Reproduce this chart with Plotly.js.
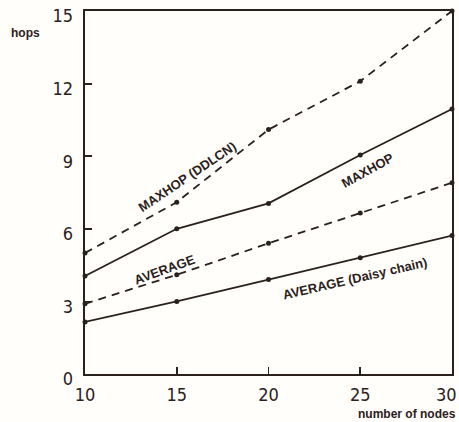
<!DOCTYPE html>
<html>
<head>
<meta charset="utf-8">
<script src="https://cdn.plot.ly/plotly-3.0.1.min.js"></script>
<style>html,body{margin:0;padding:0;background:#fffefa;}#chart{width:459px;height:422px;}</style>
</head>
<body>
<div id="chart"></div>
<script>
const nodes = [10, 15, 20, 25, 30];
const maxhopDDLCN = [5.0, 7.1, 10.1, 12.1, 15.0];
const maxhop = [4.05, 6.0, 7.05, 9.05, 10.95];
const average = [2.9, 4.1, 5.4, 6.65, 7.9];
const averageDaisy = [2.15, 3.0, 3.9, 4.8, 5.72];
const xTicks = [10, 15, 20, 25];
const xLastTick = 30;
const yTicks = [0, 3, 6, 9, 12, 15];

const ink = '#2b211c';
const narrow = '"Liberation Sans Narrow", "DejaVu Sans Condensed", "Arial Narrow", sans-serif';
const bold = '"Liberation Sans", Arial, sans-serif';

function tr(y, dashed) {
  return {
    x: nodes, y: y, type: 'scatter', mode: 'lines+markers',
    line: {color: ink, width: 1.8, dash: dashed ? '8px,6px' : 'solid'},
    marker: {color: ink, size: 5},
    hoverinfo: 'skip', showlegend: false, cliponaxis: false
  };
}

const data = [tr(maxhopDDLCN, true), tr(maxhop, false), tr(average, true), tr(averageDaisy, false)];

function lab(text, x, y, angle) {
  return {text: text, xref: 'x', yref: 'y', x: x, y: y, showarrow: false, textangle: angle,
    font: {family: bold, size: 13, color: ink, weight: 700}};
}

const layout = {
  width: 459, height: 422,
  margin: {l: 85, r: 7, t: 11, b: 48},
  paper_bgcolor: '#fffefa', plot_bgcolor: '#fffefa',
  xaxis: {
    range: [10, 30], tickvals: xTicks.concat([xLastTick]), ticktext: xTicks.map(String).concat(['']),
    ticks: 'inside', ticklen: 7, tickwidth: 1.8, tickcolor: ink,
    showline: true, linecolor: ink, linewidth: 2.4, mirror: true,
    showgrid: false, zeroline: false, ticklabelstandoff: 3,
    tickfont: {family: narrow, size: 18, color: ink}
  },
  yaxis: {
    range: [0, 15], tickvals: yTicks, ticktext: yTicks.map(String),
    ticks: 'inside', ticklen: 7, tickwidth: 1.8, tickcolor: ink,
    showline: true, linecolor: ink, linewidth: 2.4, mirror: true,
    showgrid: false, zeroline: false, ticklabelshift: 5, ticklabelstandoff: 6,
    ticklabeloverflow: 'allow',
    tickfont: {family: narrow, size: 18, color: ink}
  },
  annotations: [
    lab('MAXHOP (DDLCN)', 15.6, 8.15, -34),
    lab('MAXHOP', 25.4, 8.4, -29),
    lab('AVERAGE', 14.35, 4.3, -20),
    lab('AVERAGE (Daisy chain)', 24.7, 3.95, -13),
    {text: String(xLastTick), xref: 'paper', yref: 'paper', x: 1, y: 0, xshift: 7, yshift: -8,
      xanchor: 'right', yanchor: 'top', showarrow: false,
      font: {family: narrow, size: 18, color: ink}},
    {text: 'hops', xref: 'paper', yref: 'paper', x: -0.161, y: 0.939, xanchor: 'center', yanchor: 'middle',
      showarrow: false, font: {family: bold, size: 12, color: ink, weight: 700}},
    {text: 'number of nodes', xref: 'paper', yref: 'paper', x: 1, y: -0.11, xshift: 6, xanchor: 'right', yanchor: 'middle',
      showarrow: false, font: {family: bold, size: 12, color: ink, weight: 700}}
  ]
};

Plotly.newPlot('chart', data, layout, {staticPlot: true, displayModeBar: false});
</script>
</body>
</html>
